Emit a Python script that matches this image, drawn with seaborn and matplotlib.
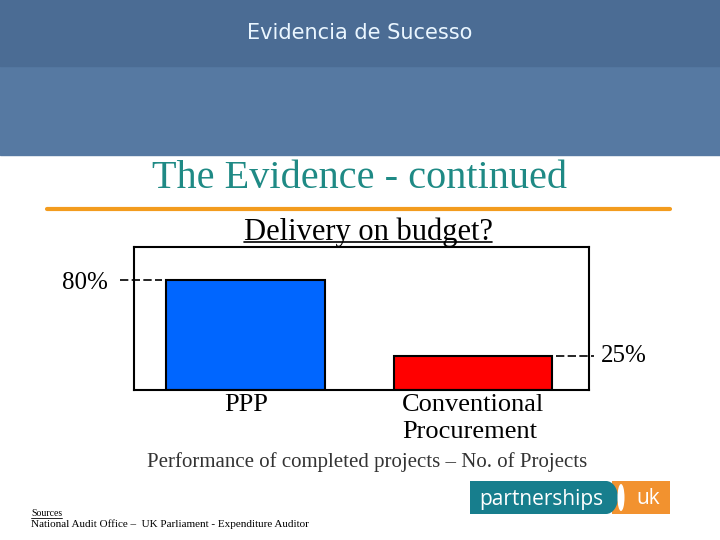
import matplotlib
matplotlib.use('Agg')
import matplotlib.pyplot as plt
import seaborn as sns
import numpy as np
import pandas as pd
from matplotlib.patches import Rectangle, Ellipse
from matplotlib.lines import Line2D
from matplotlib.colors import LinearSegmentedColormap

W, H = 720, 540

# chart data
categories = ['PPP', 'Conventional\nProcurement']
on_budget = [80, 25]
bar_colors = ['#0066ff', '#ff0000']
value_labels = ['80%', '25%']

# slide texts
slide_title = 'Evidencia de Sucesso'
heading = 'The Evidence - continued'
chart_title = 'Delivery on budget?'
x_caption = 'Performance of completed projects \u2013 No. of Projects'
sources_head = 'Sources'
sources_text = 'National Audit Office \u2013  UK Parliament - Expenditure Auditor'
logo_left = 'partnerships'
logo_right = 'uk'


def fx(px):
    return px / W


def fy(py):
    return 1 - py / H


def underline(txt, y_px, lw=1.0, color='black'):
    # matplotlib has no underline, so draw a line under the text extent
    fig.canvas.draw()
    bb = txt.get_window_extent().transformed(fig.transFigure.inverted())
    fig.add_artist(Line2D([bb.x0, bb.x1], [fy(y_px), fy(y_px)], color=color, lw=lw))


sns.set_theme(style='white')
plt.rcParams['font.family'] = ['Liberation Serif', 'DejaVu Serif']
plt.rcParams['text.color'] = 'black'

fig = plt.figure(figsize=(7.2, 5.4), dpi=100)
fig.patch.set_facecolor('white')

# header band of the slide
fig.patches.append(Rectangle((0, fy(155)), 1, 155 / H, transform=fig.transFigure,
                             color='#5679a2', zorder=0))
fig.patches.append(Rectangle((0, fy(66)), 1, 66 / H, transform=fig.transFigure,
                             color='#4b6c94', zorder=0))

# blue-to-black rule under the title
ax_rule = fig.add_axes([0, fy(72), 1, 6 / H])
rule_cmap = LinearSegmentedColormap.from_list('rule', ['#3434cc', '#23237a', '#000000'])
ax_rule.imshow(np.linspace(0, 1, 256)[None, :], aspect='auto', cmap=rule_cmap)
ax_rule.axis('off')

fig.text(0.5, fy(33), slide_title, ha='center', va='center', color='#eaf6ff',
         fontsize=15, family='DejaVu Sans')

fig.text(fx(360), fy(178), heading, ha='center', va='center', color='#1f8a85', fontsize=29)
fig.add_artist(Line2D([fx(47), fx(670)], [fy(209), fy(209)], color='#f39c1e', lw=3))

t = fig.text(fx(368), fy(232), chart_title, ha='center', va='center', fontsize=22)
underline(t, 242, lw=1.2)

# bar chart
ax = fig.add_axes([fx(134), fy(390), (589 - 134) / W, (390 - 247) / H])
df = pd.DataFrame({'category': categories, 'on_budget': on_budget})
sns.barplot(data=df, x='category', y='on_budget', hue='category', palette=bar_colors,
            saturation=1, width=0.7, edgecolor='black', linewidth=1.5, legend=False, ax=ax)
ax.set_xlim(-0.493, 1.511)
ax.set_ylim(0, 104)
ax.set_xticks([])
ax.set_yticks([])
ax.set_xlabel('')
ax.set_ylabel('')
for sp in ax.spines.values():
    sp.set_visible(True)
    sp.set_color('black')
    sp.set_linewidth(1.5)

for i, cat in enumerate(categories):
    ax.text(i, -0.03, cat, transform=ax.get_xaxis_transform(), ha='center', va='top',
            multialignment='left', fontsize=19, linespacing=1.25)

# dashed leader lines with the percentage labels
for i, (bar, val, lab) in enumerate(zip(ax.patches, on_budget, value_labels)):
    left = bar.get_x()
    right = bar.get_x() + bar.get_width()
    if i == 0:
        ax.plot([left - 0.205, left - 0.02], [val, val], color='black', lw=1.2,
                ls=(0, (5, 2)), clip_on=False)
        ax.text(left - 0.258, val - 2, lab, ha='right', va='center', fontsize=18)
    else:
        ax.plot([right + 0.017, right + 0.185], [val, val], color='black', lw=1.2,
                ls=(0, (5, 2)), clip_on=False)
        ax.text(right + 0.215, val, lab, ha='left', va='center', fontsize=18)

fig.text(fx(367), fy(462), x_caption, ha='center', va='center', color='#333333', fontsize=15)

# sources
s = fig.text(fx(31), fy(513), sources_head, ha='left', va='center', fontsize=7)
underline(s, 518, lw=0.6)
fig.text(fx(31), fy(524), sources_text, ha='left', va='center', fontsize=8)

# partnerships uk logo
ax_logo = fig.add_axes([fx(470), fy(514), 200 / W, 33 / H])
ax_logo.set_xlim(470, 670)
ax_logo.set_ylim(514, 481)
ax_logo.axis('off')
ax_logo.add_patch(Rectangle((612, 481), 58, 33, color='#f2922f', lw=0))
ax_logo.add_patch(Rectangle((470, 481), 136, 33, color='#177e8d', lw=0))
ax_logo.add_patch(Ellipse((606, 497.5), 24, 33, color='#177e8d', lw=0))
ax_logo.add_patch(Ellipse((621, 497.5), 7, 27, color='white', lw=0))
ax_logo.text(541, 499, logo_left, ha='center', va='center', color='white',
             fontsize=15, family='Open Sans')
ax_logo.text(648, 499, logo_right, ha='center', va='center', color='white',
             fontsize=15, family='Open Sans')

fig.savefig('out.png', dpi=100)
